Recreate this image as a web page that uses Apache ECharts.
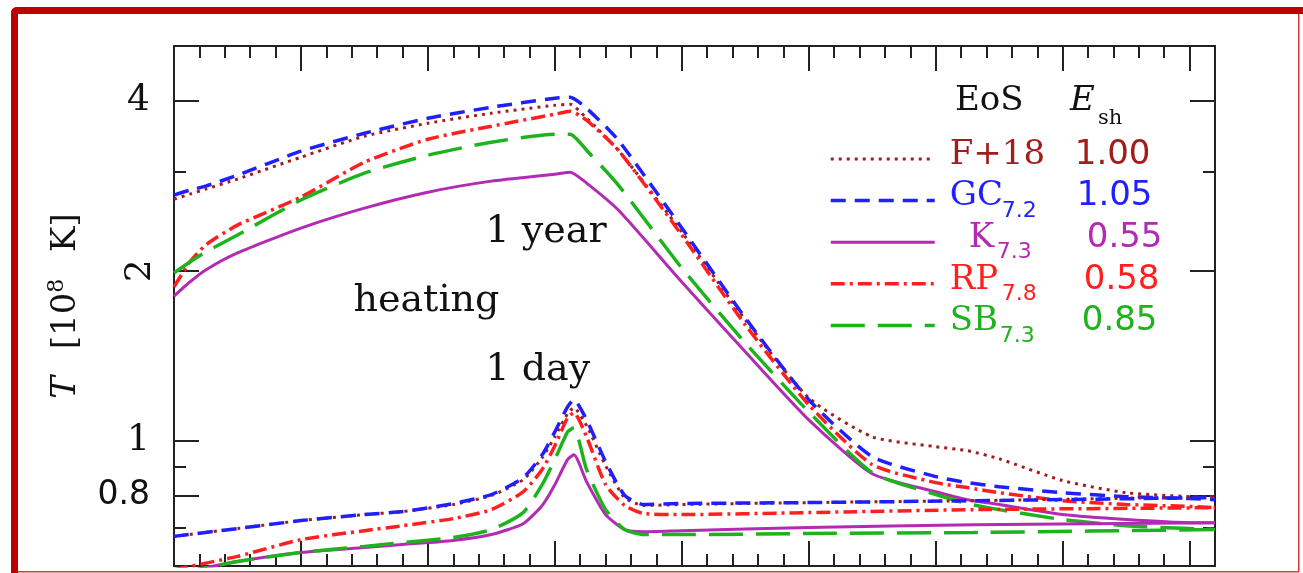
<!DOCTYPE html>
<html>
<head>
<meta charset="utf-8">
<script src="https://cdn.jsdelivr.net/npm/echarts@6/dist/echarts.min.js"></script>
<style>
  html, body { margin: 0; padding: 0; background: #ffffff; }
  #chart { width: 1303px; height: 573px; }
</style>
</head>
<body>
<div id="chart"></div>
<script>
// Crust temperature profiles after 1 year and 1 day of accretion heating (T in 1e8 K).
const logRhoYear = [6, 6.125, 6.25, 6.5, 7, 7.5, 8, 8.5, 9, 9.12, 9.25, 9.5, 10, 10.5, 11, 11.5, 12, 12.25, 12.5, 13, 13.5, 14, 14.2];
const tYearF18 = [2.678, 2.733, 2.790, 2.906, 3.177, 3.461, 3.649, 3.801, 3.927, 3.943, 3.725, 3.269, 2.342, 1.637, 1.191, 1.016, 0.976, 0.960, 0.929, 0.850, 0.809, 0.796, 0.793];
const tYearGC  = [2.722, 2.778, 2.824, 2.953, 3.256, 3.503, 3.725, 3.895, 4.041, 4.058, 3.879, 3.405, 2.380, 1.650, 1.182, 0.937, 0.864, 0.843, 0.829, 0.809, 0.796, 0.790, 0.786];
const tYearK   = [1.804, 1.910, 2.006, 2.150, 2.380, 2.582, 2.755, 2.882, 2.965, 2.989, 2.859, 2.561, 1.910, 1.437, 1.089, 0.874, 0.812, 0.786, 0.771, 0.740, 0.725, 0.716, 0.716];
const tYearRP  = [1.872, 2.073, 2.221, 2.409, 2.700, 3.113, 3.419, 3.605, 3.786, 3.832, 3.694, 3.269, 2.313, 1.604, 1.158, 0.907, 0.843, 0.826, 0.809, 0.783, 0.771, 0.765, 0.761];
const tYearSB  = [1.982, 2.073, 2.159, 2.313, 2.668, 2.977, 3.203, 3.378, 3.489, 3.489, 3.269, 2.836, 2.022, 1.490, 1.125, 0.878, 0.803, 0.774, 0.755, 0.725, 0.707, 0.699, 0.696];

const logRhoDay = [6, 6.5, 7, 7.5, 7.8, 8.2, 8.5, 8.75, 8.9, 9, 9.1, 9.15, 9.25, 9.4, 9.55, 9.7, 10, 11, 12.3, 14.2];
const tDayF18 = [0.677, 0.699, 0.722, 0.740, 0.749, 0.771, 0.800, 0.853, 0.933, 1.016, 1.116, 1.144, 1.063, 0.903, 0.793, 0.768, 0.771, 0.777, 0.783, 0.796];
const tDayGC  = [0.677, 0.699, 0.722, 0.740, 0.749, 0.774, 0.803, 0.860, 0.944, 1.037, 1.148, 1.182, 1.089, 0.918, 0.800, 0.771, 0.774, 0.777, 0.783, 0.793];
const tDayK   = [0.580, 0.611, 0.634, 0.647, 0.655, 0.666, 0.682, 0.713, 0.768, 0.836, 0.926, 0.944, 0.846, 0.740, 0.696, 0.690, 0.693, 0.702, 0.710, 0.716];
const tDayRP  = [0.591, 0.624, 0.668, 0.693, 0.707, 0.728, 0.755, 0.812, 0.889, 0.980, 1.098, 1.121, 1.016, 0.836, 0.768, 0.743, 0.740, 0.746, 0.755, 0.761];
const tDaySB  = [0.580, 0.611, 0.634, 0.650, 0.660, 0.674, 0.696, 0.746, 0.836, 0.926, 1.037, 1.054, 0.889, 0.755, 0.696, 0.682, 0.682, 0.685, 0.688, 0.696];

// Equations of state and shallow-heating strengths
const eosNames = ['F+18', 'GC', 'K', 'RP', 'SB'];
const eosSubs = ['', '7.2', '7.3', '7.8', '7.3'];
const eshValues = ['1.00', '1.05', '0.55', '0.58', '0.85'];

// Annotations
const annoText = ['1 year', 'heating', '1 day'];
const annoLogRho = [8.45, 7.41, 8.45];
const annoT = [2.337, 1.768, 1.335];

// Axis ticks (T values)
const yMajorTicks = [0.8, 1, 2, 4];
const yMinorTicks = [0.7, 0.9, 3];
const yLabels = [0.8, 1, 4];
const yRotatedLabels = [2];
const T_MIN = 0.6, T_MAX = 5;
const X_MIN = 6, X_MAX = 14.2;

const yearData = [tYearF18, tYearGC, tYearK, tYearRP, tYearSB];
const dayData = [tDayF18, tDayGC, tDayK, tDayRP, tDaySB];

const colors = ['#a31c1c', '#1f1fff', '#b32bb3', '#ff1f1f', '#1db31d'];
const dashes = [[3, 5], [15, 9], 'solid', [14, 5, 3, 5], [34, 13]];
const widths = [3, 3.5, 3, 3.5, 3.5];

const lg = Math.log10;
const AXIS = '#222';

function lineSeries(i, xs, ts) {
  return {
    type: 'line',
    name: eosNames[i],
    data: xs.map((x, k) => [x, lg(ts[k])]),
    symbol: 'none',
    smooth: 0.2,
    clip: true,
    lineStyle: { color: colors[i], width: widths[i], type: dashes[i] },
    itemStyle: { color: colors[i] },
    silent: true
  };
}

const series = [];
for (let i = 0; i < eosNames.length; i++) series.push(lineSeries(i, logRhoYear, yearData[i]));
for (let i = 0; i < eosNames.length; i++) series.push(lineSeries(i, logRhoDay, dayData[i]));
series.push({
  type: 'scatter',
  name: 'notes',
  data: annoLogRho.map((x, k) => [x, lg(annoT[k]), annoText[k]]),
  symbolSize: 1,
  itemStyle: { color: 'rgba(0,0,0,0)', opacity: 1 },
  silent: true,
  z: 5,
  label: {
    show: true, position: 'right', distance: 0, opacity: 1,
    formatter: p => p.data[2],
    fontFamily: 'DejaVu Serif', fontSize: 38, color: '#111'
  }
});

function xAxis(pos, interval, len, showLine) {
  return {
    type: 'value', position: pos, min: X_MIN, max: X_MAX, interval: interval,
    axisLine: { show: showLine, onZero: false, lineStyle: { color: AXIS, width: 2 } },
    axisTick: { show: true, inside: true, length: len, lineStyle: { color: AXIS, width: 2 } },
    axisLabel: { show: false },
    splitLine: { show: false }
  };
}

function yAxis(pos, ticks, len, showLine) {
  return {
    type: 'value', position: pos, min: lg(T_MIN), max: lg(T_MAX),
    axisLine: { show: showLine, onZero: false, lineStyle: { color: AXIS, width: 2 } },
    axisTick: ticks ? { show: true, inside: true, length: len, customValues: ticks.map(lg), lineStyle: { color: AXIS, width: 2 } } : { show: false },
    axisLabel: { show: false },
    splitLine: { show: false }
  };
}

const fmtT = v => {
  const t = Math.round(Math.pow(10, v) * 10) / 10;
  return t < 1 ? '{s|' + t + '}' : '{r|' + t + '}';
};

const yLeftMajor = yAxis('left', yMajorTicks, 25, true);
yLeftMajor.axisLabel = {
  show: true, customValues: yLabels.map(lg), margin: 24, formatter: fmtT,
  rich: {
    s: { fontFamily: 'DejaVu Sans', fontSize: 33, color: '#111' },
    r: { fontFamily: 'DejaVu Serif', fontSize: 36, color: '#111' }
  }
};
yLeftMajor.name = '{i|T} {n|[10}{p|8}{n| K]}';
yLeftMajor.nameLocation = 'middle';
yLeftMajor.nameRotate = 90;
yLeftMajor.nameGap = 85;
yLeftMajor.nameTextStyle = {
  fontFamily: 'DejaVu Serif', fontSize: 34, color: '#111',
  rich: {
    i: { fontFamily: 'DejaVu Serif', fontStyle: 'italic', fontSize: 34, lineHeight: 34, color: '#111' },
    n: { fontFamily: 'DejaVu Serif', fontSize: 34, lineHeight: 34, padding: [0, 0, 0, 16], color: '#111' },
    p: { fontFamily: 'DejaVu Serif', fontSize: 22, lineHeight: 22, padding: [0, 0, 18, 0], color: '#111' }
  }
};

const yLeftRotated = yAxis('left', null, 0, false);
yLeftRotated.axisLabel = {
  show: true, customValues: yRotatedLabels.map(lg), margin: 15, rotate: 90,
  formatter: v => String(Math.round(Math.pow(10, v))),
  fontFamily: 'DejaVu Serif', fontSize: 36, color: '#111'
};

// Legend text: name column, subscript, E_sh column
const keys = ['F', 'G', 'K', 'R', 'S'];
const ROW_LH = 42;
const legendRich = {
  g10: { width: 10, fontSize: 34, lineHeight: ROW_LH, verticalAlign: 'top' },
  g29: { width: 29, fontSize: 34, lineHeight: ROW_LH, verticalAlign: 'top' },
  v: { fontFamily: 'DejaVu Sans', fontSize: 34, lineHeight: ROW_LH, verticalAlign: 'top' }
};
const nameWidths = [124, 52, 28, 52, 50];
const subWidths = [1, 75, 90, 82, 82];
keys.forEach((k, i) => {
  legendRich['n' + k] = { fontFamily: 'DejaVu Serif', fontSize: 34, lineHeight: ROW_LH, width: nameWidths[i], verticalAlign: 'top' };
  legendRich['s' + k] = { fontFamily: 'DejaVu Sans', fontSize: 22, lineHeight: ROW_LH, width: subWidths[i], padding: [20.5, 0, 0, 0], verticalAlign: 'top' };
});

const chart = echarts.init(document.getElementById('chart'), null, { renderer: 'canvas' });
chart.setOption({
  animation: false,
  backgroundColor: '#ffffff',
  grid: { left: 174, right: 88, top: 46, height: 520 },
  xAxis: [
    xAxis('bottom', 1, 25, true),
    xAxis('bottom', 0.2, 12, false),
    xAxis('top', 1, 25, true),
    xAxis('top', 0.2, 12, false)
  ],
  yAxis: [
    yLeftMajor,
    yAxis('left', yMinorTicks, 12, false),
    yLeftRotated,
    yAxis('right', yMajorTicks, 25, true),
    yAxis('right', yMinorTicks, 12, false)
  ],
  title: {
    text: '{a|EoS}{e|E}{s|sh}',
    left: 955, top: 84.5, padding: 0,
    textStyle: {
      fontWeight: 'normal', color: '#111',
      rich: {
        a: { fontFamily: 'DejaVu Serif', fontWeight: 'normal', fontSize: 34, lineHeight: 34, width: 115, verticalAlign: 'top', color: '#111' },
        e: { fontFamily: 'DejaVu Serif', fontWeight: 'normal', fontStyle: 'italic', fontSize: 34, lineHeight: 34, width: 28, verticalAlign: 'top', color: '#111' },
        s: { fontFamily: 'DejaVu Serif', fontWeight: 'normal', fontSize: 21, lineHeight: 20, padding: [23.5, 0, 0, 0], verticalAlign: 'top', color: '#111' }
      }
    }
  },
  legend: {
    data: eosNames.map((n, i) => ({ name: n, textStyle: { color: colors[i] } })),
    orient: 'vertical', left: 829, top: 138, padding: 0,
    itemWidth: 104, itemHeight: 14, itemGap: -0.9,
    selectedMode: false,
    itemStyle: { opacity: 0, borderWidth: 0 },
    lineStyle: { width: 'inherit' },
    formatter: name => {
      const i = eosNames.indexOf(name);
      const k = keys[i];
      const gap = k === 'K' ? 'g29' : 'g10';
      return '{' + gap + '| }{n' + k + '|' + name + '}{s' + k + '|' + (eosSubs[i] || ' ') + '}{v|' + eshValues[i] + '}';
    },
    textStyle: { fontFamily: 'DejaVu Serif', fontSize: 34, rich: legendRich }
  },
  graphic: [
    { type: 'rect', shape: { x: 11, y: 7, width: 1292, height: 7, r: [6, 0, 0, 0] }, style: { fill: '#c00000' }, silent: true },
    { type: 'rect', shape: { x: 11, y: 7, width: 7, height: 566, r: [6, 0, 0, 0] }, style: { fill: '#c00000' }, silent: true },
    { type: 'rect', shape: { x: 1298, y: 14, width: 1.5, height: 558 }, style: { fill: '#d43a3a' }, silent: true },
    { type: 'rect', shape: { x: 18, y: 571, width: 1281, height: 1.5 }, style: { fill: '#d43a3a' }, silent: true }
  ],
  series: series
});
</script>
</body>
</html>
